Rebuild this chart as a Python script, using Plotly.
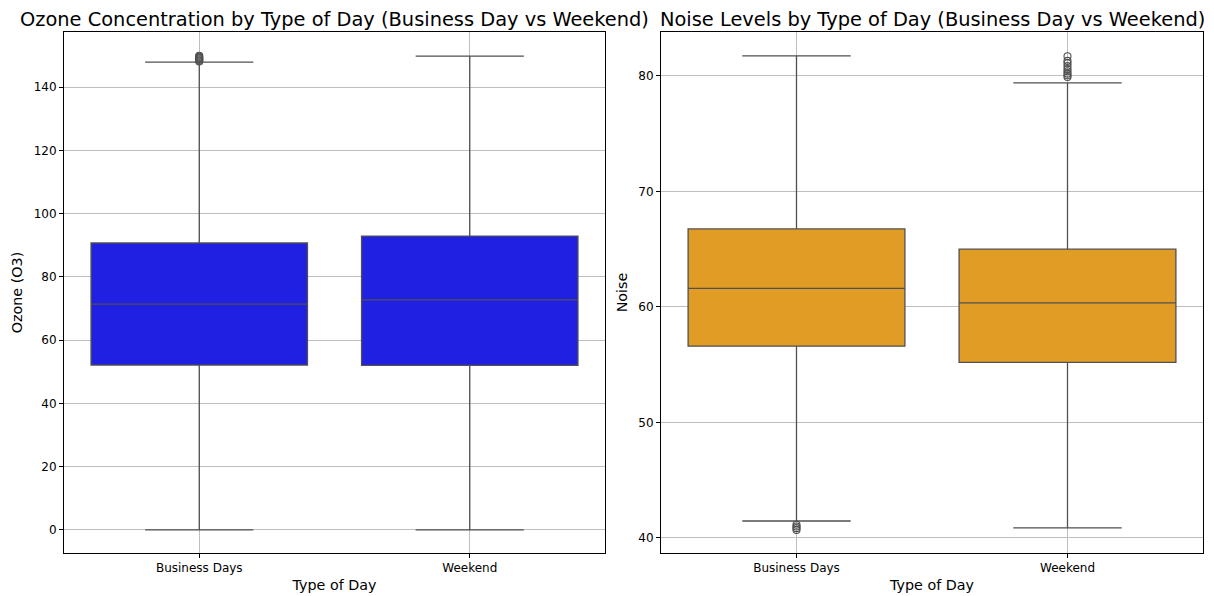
import plotly.graph_objects as go

# Categories
day_types = ["Business Days", "Weekend"]

# Ozone box statistics per day type
ozone_q1 = [52.1, 52.0]
ozone_median = [71.4, 72.7]
ozone_q3 = [90.7, 92.9]
ozone_lower = [0.0, 0.0]
ozone_upper = [147.9, 149.8]
ozone_outliers_bd = [148.1, 148.4, 148.7, 149.0, 149.3, 149.6, 149.9]
ozone_outliers_we = []

# Noise box statistics per day type
noise_q1 = [56.6, 55.2]
noise_median = [61.6, 60.35]
noise_q3 = [66.75, 65.0]
noise_lower = [41.47, 40.87]
noise_upper = [81.73, 79.4]
noise_outliers_bd = [40.7, 40.85, 41.0, 41.15]
noise_outliers_we = [79.9, 80.05, 80.2, 80.4, 80.6, 80.85, 81.1, 81.3, 81.7]

LINE = "rgb(80,80,80)"
FONT = "DejaVu Sans, sans-serif"

fig = go.Figure()


def add_boxes(xaxis, yaxis, q1, med, q3, lo, hi, color):
    fig.add_trace(go.Box(
        x=day_types, q1=q1, median=med, q3=q3,
        lowerfence=lo, upperfence=hi,
        fillcolor=color, line=dict(color=LINE, width=1.3),
        width=0.8, whiskerwidth=0.5, boxpoints=False,
        xaxis=xaxis, yaxis=yaxis, showlegend=False, hoverinfo="skip",
    ))


def add_outliers(xaxis, yaxis, cat, vals):
    if not vals:
        return
    fig.add_trace(go.Scatter(
        x=[cat] * len(vals), y=vals, mode="markers",
        marker=dict(symbol="circle-open", size=7, color=LINE, line=dict(width=1.1)),
        xaxis=xaxis, yaxis=yaxis, showlegend=False, hoverinfo="skip",
    ))


add_boxes("x", "y", ozone_q1, ozone_median, ozone_q3, ozone_lower, ozone_upper, "rgb(32,32,226)")
add_outliers("x", "y", day_types[0], ozone_outliers_bd)
add_outliers("x", "y", day_types[1], ozone_outliers_we)

add_boxes("x2", "y2", noise_q1, noise_median, noise_q3, noise_lower, noise_upper, "rgb(224,156,36)")
add_outliers("x2", "y2", day_types[0], noise_outliers_bd)
add_outliers("x2", "y2", day_types[1], noise_outliers_we)

W, H = 1214, 596
ytop = 1 - 32 / H
ybot = 1 - 553 / H

axis_common = dict(
    showline=True, linecolor="black", linewidth=1, mirror=True,
    ticks="outside", ticklen=4, tickcolor="black",
    showgrid=True, gridcolor="rgb(190,190,190)", gridwidth=1,
    zeroline=False, tickfont=dict(size=12, color="black", family=FONT),
)

fig.update_layout(
    width=W, height=H,
    margin=dict(l=0, r=0, t=0, b=0),
    paper_bgcolor="white", plot_bgcolor="white",
    font=dict(family=FONT, color="black"),
    xaxis=dict(domain=[64 / W, 605 / W], anchor="y", type="category",
               categoryorder="array", categoryarray=day_types, range=[-0.5, 1.5],
               title=dict(text="Type of Day", font=dict(size=14.3), standoff=5), **axis_common),
    yaxis=dict(domain=[ybot, ytop], anchor="x", range=[-7.3, 157.4],
               tickvals=[0, 20, 40, 60, 80, 100, 120, 140],
               title=dict(text="Ozone (O3)", font=dict(size=14.3), standoff=7), **axis_common),
    xaxis2=dict(domain=[661 / W, 1203 / W], anchor="y2", type="category",
                categoryorder="array", categoryarray=day_types, range=[-0.5, 1.5],
                title=dict(text="Type of Day", font=dict(size=14.3), standoff=5), **axis_common),
    yaxis2=dict(domain=[ybot, ytop], anchor="x2", range=[38.7, 83.8],
                tickvals=[40, 50, 60, 70, 80],
                title=dict(text="Noise", font=dict(size=14.3), standoff=7), **axis_common),
    annotations=[
        dict(text="Ozone Concentration by Type of Day (Business Day vs Weekend)",
             x=(64 + 605) / 2 / W, y=1 - 19 / H, xref="paper", yref="paper",
             showarrow=False, font=dict(size=19.4, color="black"), xanchor="center", yanchor="middle"),
        dict(text="Noise Levels by Type of Day (Business Day vs Weekend)",
             x=(661 + 1203) / 2 / W, y=1 - 19 / H, xref="paper", yref="paper",
             showarrow=False, font=dict(size=19.4, color="black"), xanchor="center", yanchor="middle"),
    ],
)

fig.write_html("out.html")
